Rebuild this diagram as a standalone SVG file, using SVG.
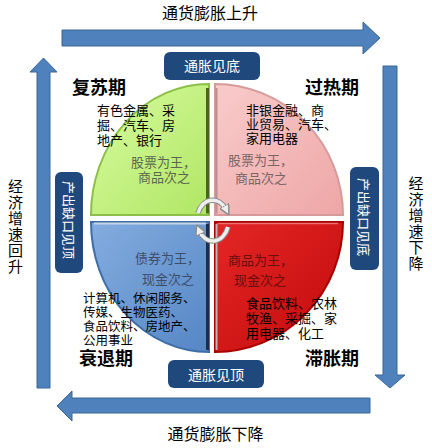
<svg xmlns="http://www.w3.org/2000/svg" width="432" height="448" viewBox="0 0 432 448">
<defs>
<style>
text{font-family:"Noto Sans CJK SC","Liberation Sans",sans-serif;}
.arrow{fill:#4F81BD;stroke:#3A6696;stroke-width:1;}
.big{font-size:16px;fill:#000;}
.vert{font-size:15px;fill:#000;}
.phase{font-size:18px;font-weight:bold;fill:#000;}
.ind{font-size:13px;fill:#000;}
.ind2{font-size:12.5px;fill:#000;}
.inner{font-size:13px;}
.box{fill:#1F497D;}
.boxt{font-size:14px;fill:#fff;}
.ring-o{fill:none;stroke:#8C8C8C;stroke-width:5.5;}
.ring-i{fill:none;stroke:#EEEEEE;stroke-width:3.5;}
</style>
<linearGradient id="gG" x1="0" y1="0" x2="1" y2="1"><stop offset="0" stop-color="#D8FCA0"/><stop offset="1" stop-color="#B0E664"/></linearGradient>
<linearGradient id="gP" x1="0" y1="0" x2="1" y2="1"><stop offset="0" stop-color="#F9CBCB"/><stop offset="1" stop-color="#EEA6A6"/></linearGradient>
<linearGradient id="gB" x1="0" y1="0" x2="1" y2="1"><stop offset="0" stop-color="#84ADE0"/><stop offset="1" stop-color="#5586C4"/></linearGradient>
<linearGradient id="gR" x1="0" y1="0" x2="1" y2="1"><stop offset="0" stop-color="#E42626"/><stop offset="1" stop-color="#C20A0A"/></linearGradient>
<marker id="ah" viewBox="0 0 10 10" refX="4" refY="5" markerWidth="3" markerHeight="3" orient="auto">
<path d="M0,0 L10,5 L0,10 z" fill="#EEEEEE" stroke="#8C8C8C" stroke-width="1.5"/>
</marker>
</defs>
<rect width="432" height="448" fill="#fff"/>

<g id="connectors">
<path class="arrow" d="M62,30 L363,30 L363,22 L380,38 L363,54 L363,46 L62,46 Z"/>
<path class="arrow" d="M383,66 L397,66 L397,375 L405,375 L390,388 L375,375 L383,375 Z"/>
<path class="arrow" d="M370,398 L370,413 L72,413 L72,421 L57,406 L72,391 L72,398 Z"/>
<path class="arrow" d="M37,388 L37,72 L30,72 L43.5,58 L57,72 L50,72 L50,388 Z"/>
</g>

<g id="label-top"><text class="big" x="210" y="19" text-anchor="middle">通货膨胀上升</text></g>
<g id="label-bottom"><text class="big" x="215.5" y="440" text-anchor="middle">通货膨胀下降</text></g>
<g id="label-left">
<text class="vert" text-anchor="middle" x="15.5"><tspan x="15.5" y="192">经</tspan><tspan x="15.5" y="208">济</tspan><tspan x="15.5" y="224">增</tspan><tspan x="15.5" y="240">速</tspan><tspan x="15.5" y="256">回</tspan><tspan x="15.5" y="272">升</tspan></text>
</g>
<g id="label-right">
<text class="vert" text-anchor="middle" x="416"><tspan x="416" y="189">经</tspan><tspan x="416" y="205">济</tspan><tspan x="416" y="221">增</tspan><tspan x="416" y="237">速</tspan><tspan x="416" y="253">下</tspan><tspan x="416" y="269">降</tspan></text>
</g>

<g id="q-recovery">
<path d="M209,215 L209,84 A118,131 0 0 0 91,215 Z" fill="url(#gG)" stroke="#8CBF48" stroke-width="2"/>
<path d="M207.5,88 L207.5,213.5" stroke="#4A6424" stroke-width="3"/>
<text class="inner" fill="#5C6650"><tspan x="131" y="167">股票为王，</tspan><tspan x="138" y="182">商品次之</tspan></text>
</g>
<g id="q-overheat">
<path d="M215,215 L215,84 A128,131 0 0 1 343,215 Z" fill="url(#gP)" stroke="#D79A9A" stroke-width="2"/>
<path d="M216.5,88 L216.5,213.5" stroke="#B89090" stroke-width="2"/>
<text class="inner" fill="#7A6464"><tspan x="228" y="165">股票为王，</tspan><tspan x="235" y="183">商品次之</tspan></text>
</g>
<g id="q-recession">
<path d="M209,222 L91,222 A118,130 0 0 0 209,352 Z" fill="url(#gB)" stroke="#3E6DA8" stroke-width="2"/>
<path d="M207.5,224 L207.5,350" stroke="#1E2E48" stroke-width="3"/>
<path d="M94,223.5 L206,223.5" stroke="#C8D4E4" stroke-width="2"/>
<text class="inner" fill="#3E4E6A"><tspan x="135" y="263">债券为王，</tspan><tspan x="142" y="284">现金次之</tspan></text>
</g>
<g id="q-stagflation">
<path d="M215,222 L343,222 A128,130 0 0 1 215,352 Z" fill="url(#gR)" stroke="#A80000" stroke-width="2"/>
<path d="M216.5,224 L216.5,350" stroke="#B8B8B8" stroke-width="2"/>
<path d="M218,223.5 L338,223.5" stroke="#F07070" stroke-width="1.5"/>
<text class="inner" fill="#6A0E0E"><tspan x="228" y="265">商品为王，</tspan><tspan x="234" y="285">现金次之</tspan></text>
</g>

<g id="cycle-ring">
<path class="ring-o" d="M198,213 A16,21 0 0 1 226,209.5"/>
<path class="ring-i" d="M198,213 A16,21 0 0 1 226,209.5" marker-end="url(#ah)"/>
<path class="ring-o" d="M228,227 A16,21 0 0 1 199,230.5"/>
<path class="ring-i" d="M228,227 A16,21 0 0 1 199,230.5" marker-end="url(#ah)"/>
</g>

<g id="ind-recovery"><text class="ind"><tspan x="97" y="115">有色金属、采</tspan><tspan x="97" y="130">掘、汽车、房</tspan><tspan x="97" y="145">地产、银行</tspan></text></g>
<g id="ind-overheat"><text class="ind"><tspan x="246" y="115">非银金融、商</tspan><tspan x="246" y="129">业贸易、汽车、</tspan><tspan x="246" y="143">家用电器</tspan></text></g>
<g id="ind-recession"><text class="ind2"><tspan x="83" y="303">计算机、休闲服务、</tspan><tspan x="83" y="317">传媒、生物医药、</tspan><tspan x="83" y="331">食品饮料、房地产、</tspan><tspan x="83" y="345">公用事业</tspan></text></g>
<g id="ind-stagflation"><text class="ind"><tspan x="246" y="308">食品饮料、农林</tspan><tspan x="246" y="323">牧渔、采掘、家</tspan><tspan x="246" y="338">用电器、化工</tspan></text></g>

<g id="phase-recovery"><text class="phase" x="72" y="94">复苏期</text></g>
<g id="phase-overheat"><text class="phase" x="305" y="94">过热期</text></g>
<g id="phase-recession"><text class="phase" x="79" y="365">衰退期</text></g>
<g id="phase-stagflation"><text class="phase" x="305" y="365">滞胀期</text></g>

<g id="box-inflation-bottom">
<rect class="box" x="164" y="52" width="96" height="28" rx="6"/>
<text class="boxt" x="212" y="71" text-anchor="middle">通胀见底</text>
</g>
<g id="box-inflation-top">
<rect class="box" x="168" y="360" width="96" height="28" rx="6"/>
<text class="boxt" x="216" y="380" text-anchor="middle">通胀见顶</text>
</g>
<g id="box-gap-left">
<rect class="box" x="55" y="172" width="28" height="101" rx="6"/>
<text class="boxt" transform="translate(69,220) rotate(90)" x="0" y="0" text-anchor="middle" dominant-baseline="central" style="font-size:13px">产出缺口见顶</text>
</g>
<g id="box-gap-right">
<rect class="box" x="350" y="167" width="29" height="103" rx="6"/>
<text class="boxt" transform="translate(364.5,217) rotate(90)" x="0" y="0" text-anchor="middle" dominant-baseline="central" style="font-size:13px">产出缺口见底</text>
</g>
</svg>
